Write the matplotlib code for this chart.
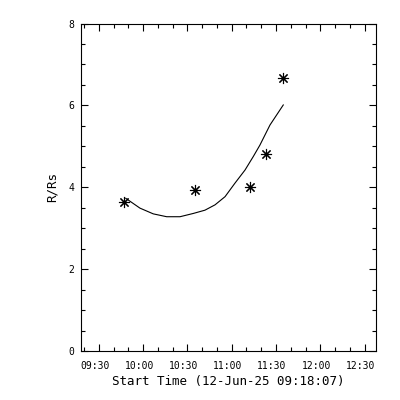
import matplotlib
matplotlib.use('Agg')
import pandas as pd
import matplotlib.pyplot as plt
import matplotlib.dates as mdates
from matplotlib.transforms import ScaledTranslation

day = '2025-06-12 '

# measured heights (asterisks)
obs_times = ['09:47:07', '10:35:22', '11:12:24', '11:23:13', '11:34:56']
obs_r = [3.63, 3.93, 4.01, 4.81, 6.66]

# fitted curve
fit_times = ['09:48:18', '09:57:54', '10:06:54', '10:16:00', '10:25:00',
             '10:34:00', '10:41:54', '10:48:42', '10:55:30', '11:02:12',
             '11:09:00', '11:14:36', '11:19:06', '11:25:54', '11:34:54']
fit_r = [3.73, 3.49, 3.35, 3.28, 3.28, 3.36, 3.44, 3.57, 3.77, 4.10,
         4.42, 4.75, 5.03, 5.52, 6.01]

x_range = ['09:18:00', '12:37:40']
y_range = [0, 8]
y_ticks = [0, 2, 4, 6, 8]

plt.rcParams['font.family'] = 'DejaVu Sans Mono'


def to_dt(lst):
    return pd.to_datetime([day + t for t in lst])


fig = plt.figure(figsize=(4, 4), dpi=100)
ax = fig.add_axes([0.2025, 0.1225, 0.7375, 0.81875])

ax.plot(to_dt(fit_times), fit_r, color='black', lw=0.8)
ax.plot(to_dt(obs_times), obs_r, linestyle='none', marker=(8, 2, 0),
        ms=8, mew=0.8, color='black')

ax.set_xlim(to_dt(x_range))
ax.set_ylim(y_range)
ax.set_yticks(y_ticks)
ax.yaxis.set_minor_locator(matplotlib.ticker.MultipleLocator(0.5))
ax.xaxis.set_major_locator(mdates.MinuteLocator(byminute=[0, 30]))
ax.xaxis.set_minor_locator(mdates.MinuteLocator(byminute=range(0, 60, 10)))
ax.xaxis.set_major_formatter(mdates.DateFormatter('%H:%M'))

ax.tick_params(which='both', direction='in', top=True, right=True,
               width=0.8, labelsize=7, color='black')
ax.tick_params(which='major', length=5)
ax.tick_params(which='minor', length=2.8)
ax.tick_params(axis='y', pad=5)
ax.tick_params(axis='x', pad=7)
for s in ax.spines.values():
    s.set_linewidth(0.8)

ax.set_xlabel('Start Time (12-Jun-25 09:18:07)', fontsize=9, labelpad=3)
ax.set_ylabel('R/Rs', fontsize=9, labelpad=7)

# x tick labels sit a little left of their ticks in the original
fig.canvas.draw()
shift = ScaledTranslation(-4 / 100, 0, fig.dpi_scale_trans)
for lab in ax.get_xticklabels():
    lab.set_transform(lab.get_transform() + shift)

fig.savefig('out.png', dpi=100)
